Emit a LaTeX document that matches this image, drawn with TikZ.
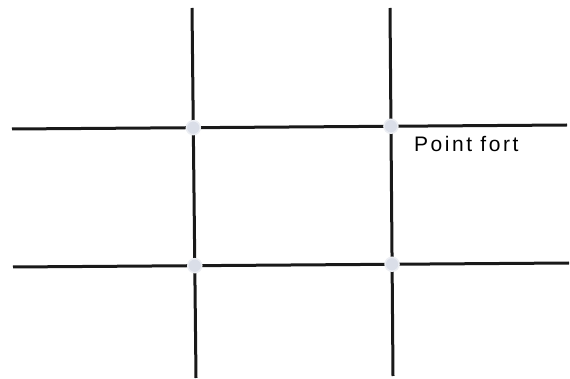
\documentclass[tikz,border=0pt]{standalone}
\usepackage{fontspec}
\setmainfont{Liberation Sans}
\usepackage{tikz}

\tikzset{
  gridline/.style = {line width=3pt, black!90},
  pointfort/.style = {circle, inner sep=0pt, minimum size=14pt,
    fill={rgb,255:red,218;green,222;blue,232}, draw={rgb,255:red,236;green,238;blue,243}, line width=1.5pt}
}

\begin{document}
\begin{tikzpicture}[x=1pt, y=-1pt]
\useasboundingbox (0, 0) rectangle (570, 379);
% lines of the grid
\coordinate (v1t) at (192, 8);   \coordinate (v1b) at (196, 378);
\coordinate (v2t) at (390, 8);   \coordinate (v2b) at (393, 376);
\coordinate (h1l) at (12, 129);  \coordinate (h1r) at (567, 125);
\coordinate (h2l) at (13, 267);  \coordinate (h2r) at (569, 263);
\draw[gridline] (v1t) -- (v1b)
  (v2t) -- (v2b)
  (h1l) -- (h1r)
  (h2l) -- (h2r);
% strong points
\node[pointfort] (p11) at (intersection of v1t--v1b and h1l--h1r) {};
\node[pointfort] (p21) at (intersection of v2t--v2b and h1l--h1r) {};
\node[pointfort] (p12) at (intersection of v1t--v1b and h2l--h2r) {};
\node[pointfort] (p22) at (intersection of v2t--v2b and h2l--h2r) {};
\node[anchor=base west, inner sep=0pt, font=\fontsize{21}{25}\selectfont\addfontfeature{LetterSpace=12}]
  (label) at (414, 152) {Point fort};
\end{tikzpicture}
\end{document}
